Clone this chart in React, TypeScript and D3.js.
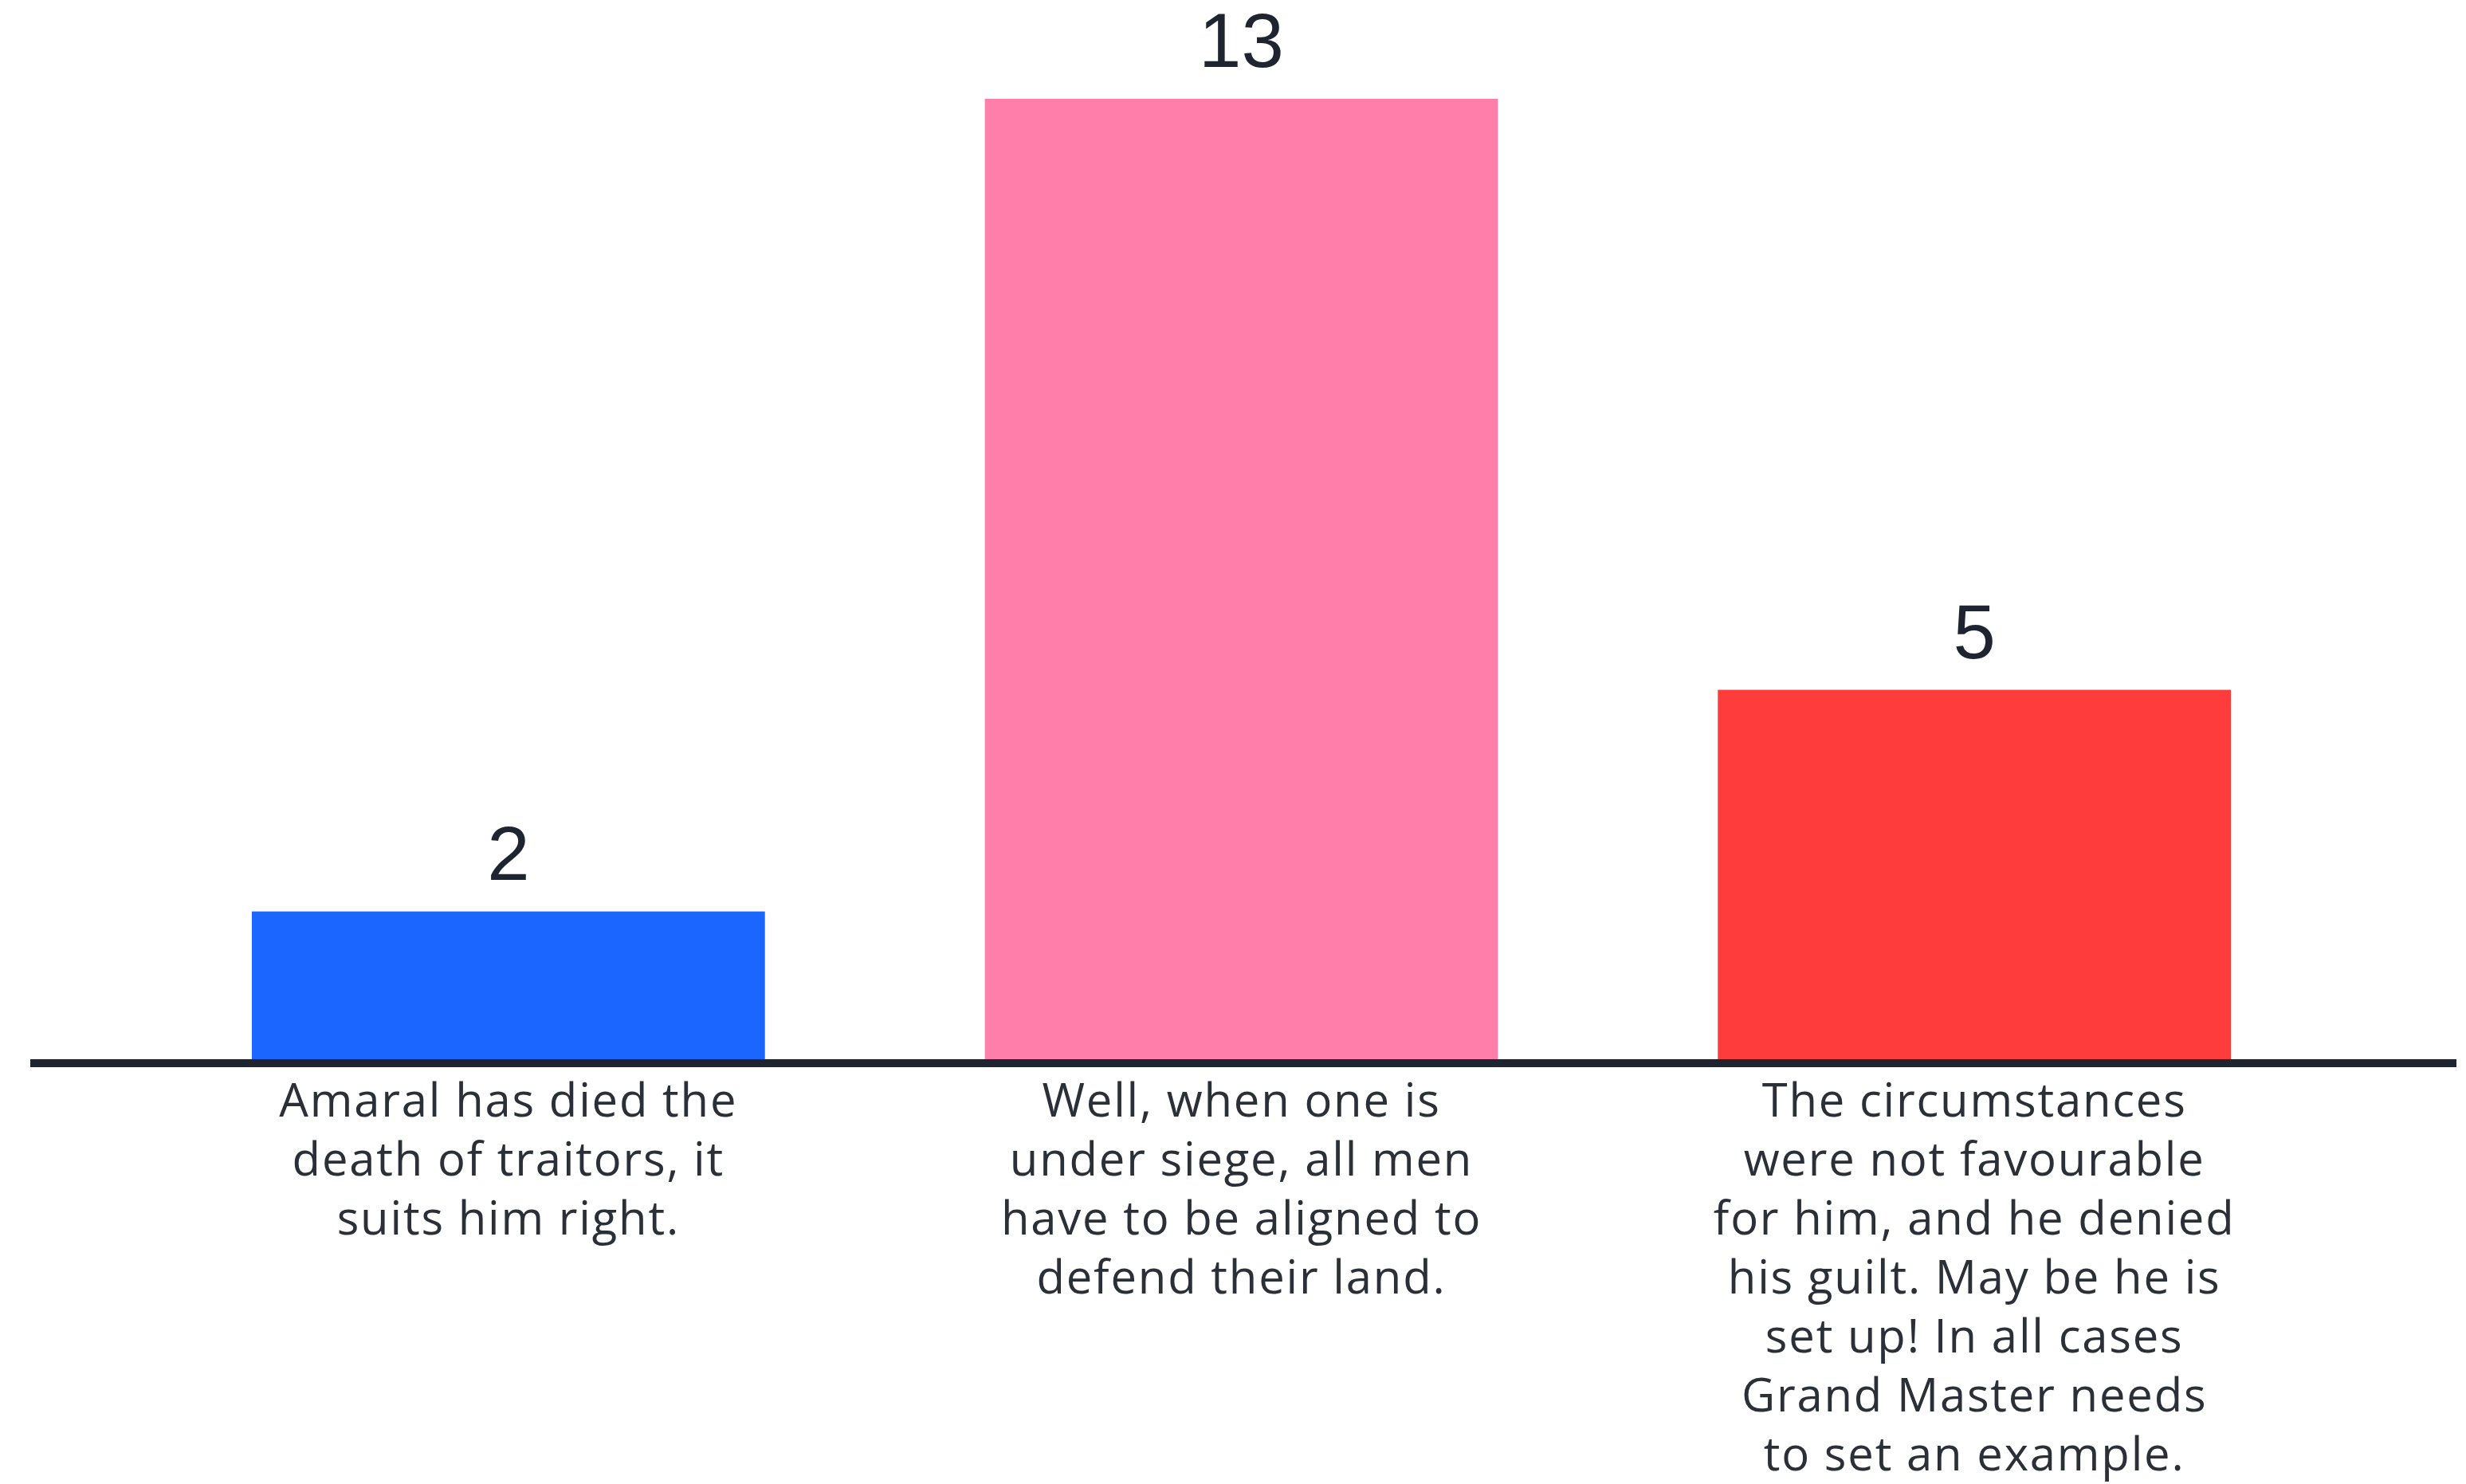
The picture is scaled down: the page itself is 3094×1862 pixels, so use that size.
import React from "react";
import * as d3 from "d3";

const categories = [
  "Amaral has died the\ndeath of traitors, it\nsuits him right.",
  "Well, when one is\nunder siege, all men\nhave to be aligned to\ndefend their land.",
  "The circumstances\nwere not favourable\nfor him, and he denied\nhis guilt. May be he is\nset up! In all cases\nGrand Master needs\nto set an example.",
];
const values = [2, 13, 5];
const colors = ["#1a66ff", "#ff7eaa", "#ff3c3c"];

const W = 3094;
const H = 1862;

export default function App() {
  const x = d3
    .scaleBand<number>()
    .domain(d3.range(categories.length))
    .range([178, 2937])
    .paddingInner(0.3)
    .paddingOuter(0.15);
  const y = d3.scaleLinear().domain([0, 13]).range([1329, 124]);

  return (
    <svg
      width={W}
      height={H}
      style={{ position: "absolute", left: 0, top: 0, background: "#fff" }}
    >
      <rect width={W} height={H} fill="#fff" />
      {values.map((v, i) => (
        <g key={i}>
          <rect
            x={x(i)}
            y={y(v)}
            width={x.bandwidth()}
            height={y(0) - y(v)}
            fill={colors[i]}
          />
          <text
            x={(x(i) as number) + x.bandwidth() / 2}
            y={y(v) - 40}
            textAnchor="middle"
            fontFamily="'Liberation Sans', Arial, sans-serif"
            fontSize={96}
            fill="#1f2530"
          >
            {v}
          </text>
          <text
            x={(x(i) as number) + x.bandwidth() / 2}
            y={1401}
            textAnchor="middle"
            fontFamily="'Open Sans', Lato, sans-serif"
            fontSize={58}
            letterSpacing={1.8}
            fill="#2a2f38"
          >
            {categories[i].split("\n").map((line, j) => (
              <tspan key={j} x={(x(i) as number) + x.bandwidth() / 2} y={1401 + j * 74}>
                {line}
              </tspan>
            ))}
          </text>
        </g>
      ))}
      <line x1={38} x2={3082} y1={1334} y2={1334} stroke="#1f2530" strokeWidth={10} />
    </svg>
  );
}
